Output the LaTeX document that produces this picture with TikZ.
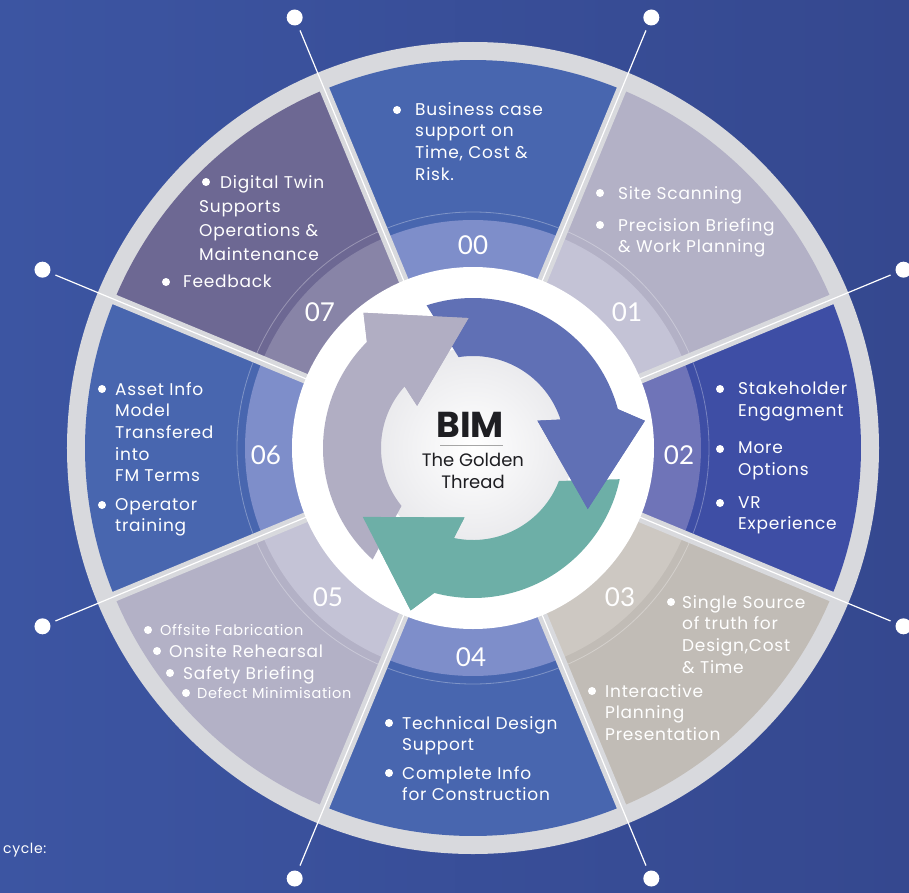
\documentclass[tikz,border=0pt]{standalone}
\usepackage{fontspec}
\setmainfont{Poppins}[LetterSpace=4.5]
\newfontfamily\numfont{Lato}

\definecolor{bgleft}{HTML}{3C55A2}
\definecolor{bgright}{HTML}{35488F}
\definecolor{ringgrey}{HTML}{D8D9DD}
\definecolor{segblue}{HTML}{4866AF}
\definecolor{bandblue}{HTML}{7E8ECA}
\definecolor{seglav}{HTML}{B3B1C6}
\definecolor{bandlav}{HTML}{C4C3D6}
\definecolor{segdeep}{HTML}{3E4EA5}
\definecolor{banddeep}{HTML}{6F74B8}
\definecolor{segsand}{HTML}{C1BCB6}
\definecolor{bandsand}{HTML}{CDC8C2}
\definecolor{segplum}{HTML}{6D6893}
\definecolor{bandplum}{HTML}{8884A7}
\definecolor{arrblue}{HTML}{6070B5}
\definecolor{arrteal}{HTML}{6DAFA7}
\definecolor{arrgrey}{HTML}{B1AEC3}
\definecolor{hubgrey}{HTML}{E9E9EC}
\definecolor{bimdark}{HTML}{1E1E22}

\tikzset{
	txt/.style={text=white, align=left, inner sep=0pt, anchor=north west, font=\fontsize{17}{21.7}\selectfont},
	smalltxt/.style={txt, font=\fontsize{14.5}{16}\selectfont},
	dot/.style={circle, fill=white, inner sep=0pt, minimum size=8pt},
	num/.style={text=white, inner sep=0pt, font=\numfont\fontsize{26}{26}\selectfont},
}

\begin{document}
\begin{tikzpicture}[x=1pt, y=1pt]
		\clip (-473,-444) rectangle (436,448);
		% Hintergrund
		\shade[left color=bgleft, right color=bgright] (-473,-444) rectangle (436,448);
		\node[anchor=west, text=white, inner sep=0pt, font=\fontsize{14}{16}\selectfont] (cyc) at (-470,-402) {cycle:};
		% Grauer Ring
		\fill[ringgrey] (0,0) circle[radius=406pt];
		% Segmente mit innerem Band
		\foreach \a/\seg/\band in {90/segblue/bandblue, 45/seglav/bandlav, 0/segdeep/banddeep, -45/segsand/bandsand,
				-90/segblue/bandblue, -135/seglav/bandlav, 180/segblue/bandblue, 135/segplum/bandplum} {
			\fill[\seg] (\a-22.5:180pt) -- (\a-22.5:388pt) arc[start angle=\a-22.5, end angle=\a+22.5, radius=388pt] -- (\a+22.5:180pt) -- cycle;
			\fill[\band] (\a-22.5:180pt) -- (\a-22.5:228pt) arc[start angle=\a-22.5, end angle=\a+22.5, radius=228pt] -- (\a+22.5:180pt) -- cycle;
		}
		\draw[white, opacity=.3, line width=.8pt] (0,0) circle[radius=236pt];
		% Trennlinien und Punkte
		\foreach \a in {22.5,67.5,...,337.5} {
			\draw[ringgrey, line width=10pt] (\a:175pt) -- (\a:395pt);
			\draw[white, line width=1.2pt] (\a:175pt) -- (\a:452pt);
			\fill[white] (\a:466pt) circle[radius=8pt];
		}
		% Nabe
		\fill[white] (0,0) circle[radius=181pt];
		\shade[inner color=white, outer color=hubgrey] (0,0) circle[radius=100pt];
		% Pfeile, danach die Spitzen noch einmal obendrauf
		\foreach \h/\col in {-105/arrteal, 15/arrblue, 135/arrgrey}
			\fill[\col] (\h+93:150pt) arc[start angle=\h+93, end angle=\h, radius=150pt] -- (\h-6:174pt) -- (\h-43:130pt)
				-- (\h+8:70pt) -- (\h+3:92pt) arc[start angle=\h+3, end angle=\h+84, radius=92pt] -- cycle;
		\foreach \h/\col in {-105/arrteal, 15/arrblue, 135/arrgrey}
			\fill[\col] (\h:150pt) -- (\h-6:174pt) -- (\h-43:130pt) -- (\h+8:70pt) -- (\h+3:92pt) -- cycle;
		% Mitte
		\node[text=bimdark, font=\fontsize{36}{36}\selectfont\bfseries\addfontfeatures{LetterSpace=0}] (bim) at (-3,23) {BIM};
		\draw[gray!70, line width=.6pt] (-33,3) -- (30,3);
		\node[text=bimdark, align=center, font=\fontsize{18}{22}\selectfont\addfontfeatures{LetterSpace=0}] (golden) at (0,-23) {The Golden\\Thread};
		% Nummern
		\foreach \n/\x/\y in {00/0/203, 01/154/136, 02/206/-7, 03/147/-149, 04/-2/-209, 05/-145/-149, 06/-207/-7, 07/-153/136}
			\node[num] (n\n) at (\x,\y) {\n};
		% Texte 00
		\node[dot] (d00) at (-76,338) {};
		\node[txt] (t00) at (-58,346) {Business case\\support on\\Time, Cost \&\\Risk.};
		% Texte 01
		\node[dot] (d01a) at (127,255) {};
		\node[txt] (t01a) at (145,262) {Site Scanning};
		\node[dot] (d01b) at (127,223) {};
		\node[txt] (t01b) at (145,230) {Precision Briefing\\\& Work Planning};
		% Texte 02
		\node[dot] (d02a) at (247,59) {};
		\node[txt] (t02a) at (265,66) {Stakeholder\\Engagment};
		\node[dot] (d02b) at (247,-1) {};
		\node[txt] (t02b) at (265,6) {More\\Options};
		\node[dot] (d02c) at (247,-55) {};
		\node[txt] (t02c) at (265,-48) {VR\\Experience};
		% Texte 03
		\node[dot] (d03a) at (198,-154) {};
		\node[txt] (t03a) at (209,-147) {Single Source\\of truth for\\Design,Cost\\\& Time};
		\node[dot] (d03b) at (119,-243) {};
		\node[txt] (t03b) at (132,-236) {Interactive\\Planning\\Presentation};
		% Texte 04
		\node[dot] (d04a) at (-84,-275) {};
		\node[txt] (t04a) at (-71,-268) {Technical Design\\Support};
		\node[dot] (d04b) at (-84,-325) {};
		\node[txt] (t04b) at (-71,-318) {Complete Info\\for Construction};
		% Texte 05
		\node[dot] (d05a) at (-325,-182) {};
		\node[smalltxt] (t05a) at (-313,-176.5) {Offsite Fabrication};
		\node[dot] (d05b) at (-316,-203) {};
		\node[txt] (t05b) at (-304,-196) {Onsite Rehearsal};
		\node[dot] (d05c) at (-303,-225) {};
		\node[txt] (t05c) at (-290,-218) {Safety Briefing};
		\node[dot] (d05d) at (-287,-245) {};
		\node[smalltxt] (t05d) at (-276,-239) {Defect Minimisation};
		% Texte 06
		\node[dot] (d06a) at (-371,59) {};
		\node[txt] (t06a) at (-358,66) {Asset Info\\Model\\Transfered\\into\\FM Terms};
		\node[dot] (d06b) at (-371,-57) {};
		\node[txt] (t06b) at (-358,-50) {Operator\\training};
		% Texte 07
		\node[dot] (d07a) at (-267,266) {};
		\node[txt, font=\fontsize{17}{24}\selectfont] (t07a) at (-274,273) {\hspace*{21pt}Digital Twin\\Supports\\Operations \&\\Maintenance};
		\node[dot] (d07b) at (-307,166) {};
		\node[txt] (t07b) at (-290,173) {Feedback};
\end{tikzpicture}
\end{document}
